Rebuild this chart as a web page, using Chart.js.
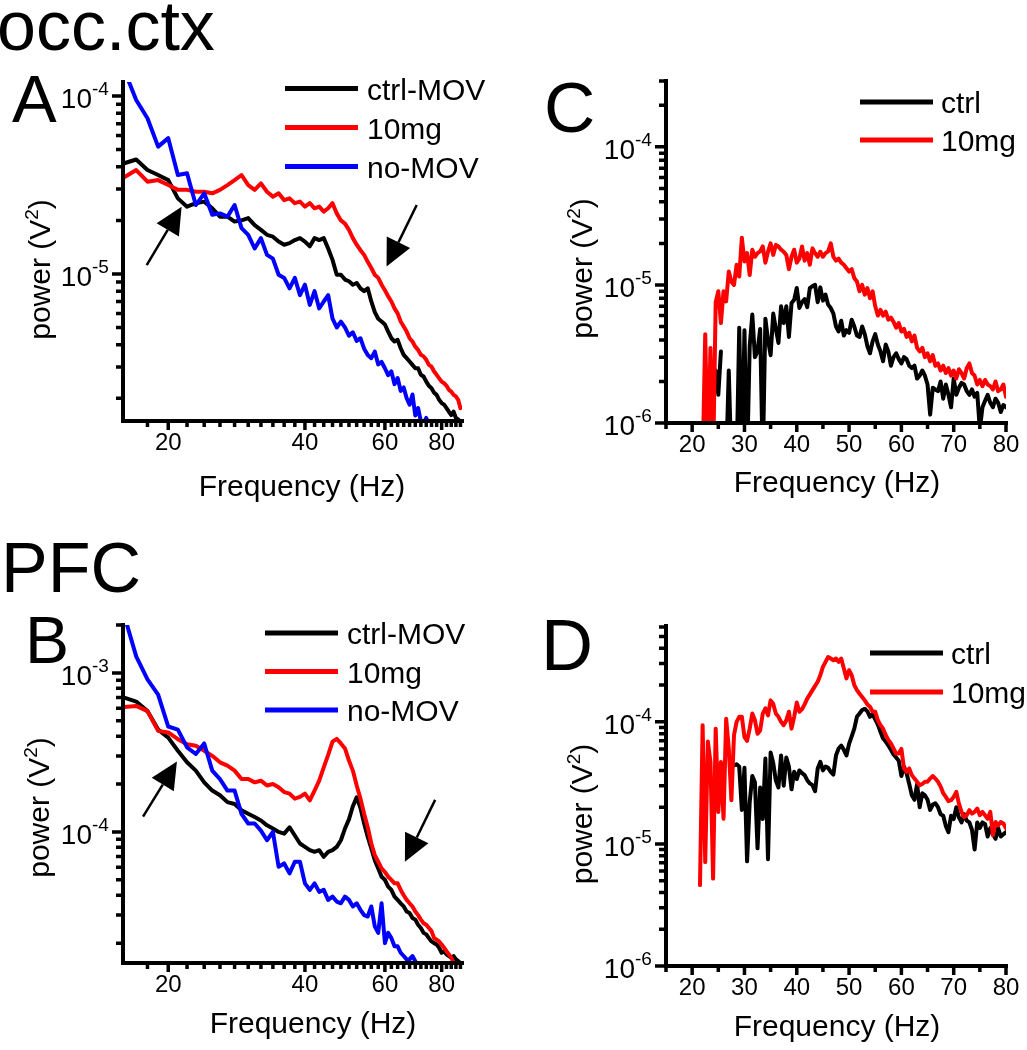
<!DOCTYPE html>
<html>
<head>
<meta charset="utf-8">
<title>occ.ctx / PFC power spectra</title>
<script src="https://cdn.jsdelivr.net/npm/chart.js@4.4.1/dist/chart.umd.min.js"></script>
<style>
  html, body { margin: 0; padding: 0; background: #fff; }
  #fig { position: relative; width: 1027px; height: 1050px; overflow: hidden; }
  #fig canvas { position: absolute; left: 0; top: 0; }
</style>
</head>
<body>
<div id="fig">
  <canvas id="panelA" width="1027" height="1050"></canvas>
  <canvas id="panelB" width="1027" height="1050"></canvas>
  <canvas id="panelC" width="1027" height="1050"></canvas>
  <canvas id="panelD" width="1027" height="1050"></canvas>
</div>
<script>
// frequency grid of panels A and B (Hz, log axis)
const freqAB = [
  16, 17, 18, 19, 20, 21, 22, 23, 24, 25,
  26, 27, 28, 29, 30, 31, 32, 33, 34, 35,
  36, 37, 38, 39, 40, 41, 42, 43, 44, 45,
  46, 47, 48, 49, 50, 51, 52, 53, 54, 55,
  56, 57, 58, 59, 60, 61, 62, 63, 64, 65,
  66, 67, 68, 69, 70, 71, 72, 73, 74, 75,
  76, 77, 78, 79, 80, 81, 82, 83, 84, 85,
  86, 87, 88
];

// A: occ.ctx power (V^2)
const ctrlMovA = [
  4.19e-5, 4.4e-5, 3.84e-5, 3.6e-5, 3.37e-5, 2.66e-5, 2.39e-5, 2.5e-5, 2.55e-5, 2.34e-5,
  2.1e-5, 2.1e-5, 1.97e-5, 2.0e-5, 2.06e-5, 1.88e-5, 1.77e-5, 1.66e-5, 1.62e-5, 1.52e-5,
  1.46e-5, 1.49e-5, 1.55e-5, 1.59e-5, 1.52e-5, 1.43e-5, 1.59e-5, 1.55e-5, 1.59e-5, 1.39e-5,
  1.2e-5, 9.9e-6, 9.9e-6, 9.3e-6, 9.1e-6, 8.7e-6, 8.9e-6, 8.3e-6, 8.0e-6, 8.3e-6,
  7.0e-6, 6.1e-6, 5.6e-6, 5.4e-6, 5.2e-6, 4.74e-6, 4.35e-6, 4.17e-6, 4.26e-6, 3.82e-6,
  3.51e-6, 3.36e-6, 3.22e-6, 3.08e-6, 2.95e-6, 2.95e-6, 2.71e-6, 2.65e-6, 2.48e-6, 2.35e-6,
  2.28e-6, 2.15e-6, 2.09e-6, 1.96e-6, 1.88e-6, 1.84e-6, 1.76e-6, 1.68e-6, 1.61e-6, 1.68e-6,
  1.55e-6, 1.52e-6, 1.48e-6
];
const mg10A = [
  3.5e-5, 3.84e-5, 3.3e-5, 3.37e-5, 3.16e-5, 2.97e-5, 2.97e-5, 2.9e-5, 2.9e-5, 2.84e-5,
  2.97e-5, 3.16e-5, 3.37e-5, 3.6e-5, 3.16e-5, 2.97e-5, 3.23e-5, 2.9e-5, 2.72e-5, 2.84e-5,
  2.6e-5, 2.66e-5, 2.5e-5, 2.55e-5, 2.39e-5, 2.5e-5, 2.34e-5, 2.39e-5, 2.24e-5, 2.34e-5,
  2.5e-5, 2.19e-5, 2.0e-5, 1.92e-5, 1.77e-5, 1.59e-5, 1.46e-5, 1.36e-5, 1.28e-5, 1.17e-5,
  1.08e-5, 9.9e-6, 9.5e-6, 8.7e-6, 8.1e-6, 7.5e-6, 7.0e-6, 6.4e-6, 6.0e-6, 5.4e-6,
  5.06e-6, 4.74e-6, 4.35e-6, 4.17e-6, 3.9e-6, 3.74e-6, 3.51e-6, 3.44e-6, 3.29e-6, 3.08e-6,
  3.01e-6, 2.83e-6, 2.71e-6, 2.59e-6, 2.48e-6, 2.43e-6, 2.35e-6, 2.23e-6, 2.18e-6, 2.09e-6,
  2.05e-6, 1.96e-6, 1.76e-6
];
const noMovA = [
  1.4e-4, 9.5e-5, 7.5e-5, 5.2e-5, 5.8e-5, 3.6e-5, 3.68e-5, 2.44e-5, 2.84e-5, 2.15e-5,
  2.19e-5, 2.1e-5, 2.44e-5, 1.81e-5, 1.66e-5, 1.39e-5, 1.59e-5, 1.28e-5, 1.22e-5, 9.9e-6,
  9.5e-6, 8.3e-6, 9.5e-6, 7.6e-6, 8.7e-6, 6.7e-6, 8.0e-6, 6.4e-6, 7.0e-6, 7.6e-6,
  5.6e-6, 5.0e-6, 5.4e-6, 5.0e-6, 4.5e-6, 4.7e-6, 4.2e-6, 4.35e-6, 3.8e-6, 3.5e-6,
  3.36e-6, 3.66e-6, 3.1e-6, 3.2e-6, 2.95e-6, 2.7e-6, 2.83e-6, 2.4e-6, 2.6e-6, 2.2e-6,
  2.3e-6, 2.0e-6, 1.84e-6, 2.1e-6, 1.6e-6, 1.76e-6, 1.48e-6, 1.45e-6, 1.55e-6, 1.42e-6,
  1.36e-6
];

// B: PFC power (V^2)
const ctrlMovB = [
  6.98e-4, 6.6e-4, 5.75e-4, 4.4e-4, 3.92e-4, 3.24e-4, 2.74e-4, 2.43e-4, 2.05e-4, 1.82e-4,
  1.7e-4, 1.54e-4, 1.5e-4, 1.37e-4, 1.3e-4, 1.24e-4, 1.18e-4, 1.1e-4, 1.05e-4, 1.0e-4,
  9.76e-5, 1.07e-4, 9.5e-5, 8.46e-5, 8.06e-5, 7.68e-5, 7.5e-5, 7.68e-5, 6.98e-5, 7.5e-5,
  7.68e-5, 8.06e-5, 8.87e-5, 1.05e-4, 1.2e-4, 1.45e-4, 1.65e-4, 1.42e-4, 1.13e-4, 9.3e-5,
  7.87e-5, 6.65e-5, 5.9e-5, 5.23e-5, 5.0e-5, 4.53e-5, 4.32e-5, 3.92e-5, 3.74e-5, 3.56e-5,
  3.4e-5, 3.16e-5, 3.09e-5, 2.88e-5, 2.81e-5, 2.61e-5, 2.49e-5, 2.32e-5, 2.27e-5, 2.15e-5,
  2.05e-5, 2.0e-5, 1.96e-5, 1.87e-5, 1.74e-5, 1.78e-5, 1.7e-5, 1.66e-5, 1.62e-5, 1.66e-5,
  1.58e-5, 1.54e-5, 1.5e-5
];
const mg10B = [
  6.1e-4, 6.2e-4, 5.75e-4, 4.32e-4, 4.22e-4, 3.83e-4, 3.56e-4, 3.48e-4, 3.24e-4, 3.01e-4,
  2.74e-4, 2.61e-4, 2.43e-4, 2.15e-4, 2.15e-4, 2.05e-4, 2.1e-4, 1.96e-4, 2.0e-4, 1.91e-4,
  1.78e-4, 1.74e-4, 1.62e-4, 1.66e-4, 1.74e-4, 1.58e-4, 1.82e-4, 2.1e-4, 2.55e-4, 3.05e-4,
  3.7e-4, 3.85e-4, 3.6e-4, 3.35e-4, 2.81e-4, 2.43e-4, 1.96e-4, 1.62e-4, 1.3e-4, 1.07e-4,
  8.46e-5, 7.15e-5, 6.5e-5, 5.9e-5, 5.6e-5, 5.23e-5, 5.0e-5, 4.75e-5, 4.75e-5, 4.32e-5,
  4.0e-5, 3.74e-5, 3.56e-5, 3.4e-5, 3.16e-5, 3.0e-5, 2.81e-5, 2.67e-5, 2.61e-5, 2.49e-5,
  2.38e-5, 2.15e-5, 2.1e-5, 2.05e-5, 1.96e-5, 1.87e-5, 1.78e-5, 1.7e-5, 1.62e-5, 1.5e-5,
  1.43e-5
];
const noMovB = [
  2.3e-3, 1.27e-3, 9.1e-4, 7.3e-4, 4.6e-4, 4.4e-4, 3.4e-4, 3.09e-4, 3.6e-4, 2.43e-4,
  2.15e-4, 1.82e-4, 1.82e-4, 1.3e-4, 1.13e-4, 1.13e-4, 1.02e-4, 8.87e-5, 1.0e-4, 6.04e-5,
  6.34e-5, 5.49e-5, 6.5e-5, 6.5e-5, 4.75e-5, 4.32e-5, 4.75e-5, 4.2e-5, 4.32e-5, 3.74e-5,
  3.92e-5, 3.65e-5, 3.56e-5, 3.92e-5, 3.74e-5, 3.4e-5, 3.56e-5, 3.24e-5, 3.0e-5, 2.94e-5,
  3.4e-5, 2.55e-5, 2.32e-5, 3.56e-5, 2.0e-5, 2.32e-5, 2.15e-5, 1.91e-5, 1.91e-5, 1.74e-5,
  1.66e-5, 1.58e-5, 1.58e-5, 1.66e-5, 1.54e-5, 1.43e-5
];

// frequency grid of panels C and D (Hz, linear axis)
const freqCD = [
  21.5, 22, 22.5, 23, 23.5, 24, 24.5, 25, 25.5, 26,
  26.5, 27, 27.5, 28, 28.5, 29, 29.5, 30, 30.5, 31,
  31.5, 32, 32.5, 33, 33.5, 34, 34.5, 35, 35.5, 36,
  36.5, 37, 37.5, 38, 38.5, 39, 39.5, 40, 40.5, 41,
  41.5, 42, 42.5, 43, 43.5, 44, 44.5, 45, 45.5, 46,
  46.5, 47, 47.5, 48, 48.5, 49, 49.5, 50, 50.5, 51,
  51.5, 52, 52.5, 53, 53.5, 54, 54.5, 55, 55.5, 56,
  56.5, 57, 57.5, 58, 58.5, 59, 59.5, 60, 60.5, 61,
  61.5, 62, 62.5, 63, 63.5, 64, 64.5, 65, 65.5, 66,
  66.5, 67, 67.5, 68, 68.5, 69, 69.5, 70, 70.5, 71,
  71.5, 72, 72.5, 73, 73.5, 74, 74.5, 75, 75.5, 76,
  76.5, 77, 77.5, 78, 78.5, 79, 79.5, 80
];

// C: occ.ctx power (V^2), null = no value
const ctrlC = [
  null, null, null, null, null, null, 2.4e-6, 1.6e-6, 3.3e-6, null,
  5e-7, 2.4e-6, 5e-7, null, 5e-7, 4.9e-6, 5e-7, 4.7e-6, 5e-7, 3.6e-6,
  6.1e-6, 3.0e-6, 3.3e-6, 4.8e-6, 5e-7, 5.7e-6, 4.0e-6, 3.1e-6, 6.2e-6, 4.8e-6,
  3.8e-6, 7.0e-6, 5.3e-6, 7.0e-6, 4.2e-6, 7.4e-6, 7.8e-6, 9.5e-6, 6.8e-6, 7.5e-6,
  7.9e-6, 6.9e-6, 9.5e-6, 9.8e-6, 1.0e-5, 7.5e-6, 9.6e-6, 7.7e-6, 8.5e-6, 7.2e-6,
  6.8e-6, 6.2e-6, 5.0e-6, 4.6e-6, 5.5e-6, 4.3e-6, 4.7e-6, 4.5e-6, 5.6e-6, 5.0e-6,
  4.3e-6, 4.2e-6, 5.0e-6, 4.4e-6, 3.6e-6, 3.2e-6, 3.9e-6, 4.4e-6, 3.7e-6, 3.3e-6,
  2.8e-6, 3.7e-6, 3.3e-6, 2.6e-6, 3.0e-6, 3.2e-6, 2.9e-6, 2.7e-6, 3.0e-6, 2.9e-6,
  2.6e-6, 2.5e-6, 2.6e-6, 2.1e-6, 2.2e-6, 2.4e-6, 2.2e-6, 1.9e-6, 1.15e-6, 1.8e-6,
  1.75e-6, 1.7e-6, 2.0e-6, 1.5e-6, 1.9e-6, 1.6e-6, 1.3e-6, 2.1e-6, 1.6e-6, 1.8e-6,
  1.95e-6, 1.9e-6, 1.7e-6, 1.6e-6, 1.75e-6, 1.55e-6, 1.65e-6, 9e-7, 1.3e-6, 1.45e-6,
  1.6e-6, 1.4e-6, 1.3e-6, 1.5e-6, 1.4e-6, 1.2e-6, 1.35e-6, 1.3e-6
];
const mg10C = [
  null, 5e-7, 4.4e-6, 5e-7, 3.5e-6, 5e-7, 7.5e-6, 9.0e-6, 5.3e-6, 9.0e-6,
  7.6e-6, 1.25e-5, 1.06e-5, 1.0e-5, 1.4e-5, 1.15e-5, 2.2e-5, 1.48e-5, 1.7e-5, 1.18e-5,
  1.8e-5, 1.6e-5, 1.7e-5, 1.75e-5, 1.9e-5, 1.45e-5, 1.74e-5, 2.0e-5, 1.65e-5, 1.95e-5,
  1.9e-5, 1.8e-5, 1.74e-5, 1.65e-5, 1.3e-5, 1.6e-5, 1.8e-5, 1.45e-5, 1.55e-5, 1.9e-5,
  1.5e-5, 1.7e-5, 1.4e-5, 1.84e-5, 1.7e-5, 1.6e-5, 1.74e-5, 1.6e-5, 1.7e-5, 1.75e-5,
  2.0e-5, 1.6e-5, 1.5e-5, 1.55e-5, 1.45e-5, 1.4e-5, 1.32e-5, 1.25e-5, 1.3e-5, 1.12e-5,
  1.06e-5, 9.0e-6, 1.0e-5, 8.5e-6, 9.5e-6, 8.0e-6, 9.0e-6, 7.0e-6, 6.0e-6, 6.6e-6,
  6.0e-6, 6.4e-6, 5.6e-6, 5.8e-6, 5.4e-6, 4.9e-6, 5.3e-6, 4.6e-6, 4.8e-6, 4.2e-6,
  4.5e-6, 3.9e-6, 4.3e-6, 3.5e-6, 3.3e-6, 3.5e-6, 3.0e-6, 3.2e-6, 2.8e-6, 3.1e-6,
  2.6e-6, 2.7e-6, 2.4e-6, 2.6e-6, 2.3e-6, 2.5e-6, 2.2e-6, 2.4e-6, 2.1e-6, 2.45e-6,
  2.3e-6, 2.1e-6, 2.5e-6, 2.7e-6, 2.3e-6, 2.2e-6, 1.9e-6, 2.05e-6, 1.85e-6, 2.05e-6,
  1.9e-6, 1.85e-6, 1.75e-6, 2.0e-6, 1.7e-6, 1.75e-6, 1.9e-6, 1.55e-6
];

// D: PFC power (V^2), null = no value
const ctrlD = [
  null, null, null, null, null, null, null, null, null, null,
  null, null, null, 4.4e-5, 4.5e-5, 4.3e-5, 1.9e-5, 4.2e-5, 7.2e-6, 2.2e-5,
  3.6e-5, 3.2e-5, 9.2e-6, 2.9e-5, 1.6e-5, 5.0e-5, 7.5e-6, 5.6e-5, 4.6e-5, 3.3e-5,
  2.9e-5, 5.3e-5, 3.0e-5, 5.1e-5, 4.3e-5, 2.8e-5, 3.9e-5, 3.4e-5, 4.0e-5, 3.8e-5,
  3.66e-5, 3.33e-5, 3.13e-5, 3.03e-5, 2.7e-5, 4.15e-5, 4.7e-5, 4.0e-5, 4.3e-5, 4.2e-5,
  3.9e-5, 3.7e-5, 5.3e-5, 6.05e-5, 6.4e-5, 5.9e-5, 5.3e-5, 6.6e-5, 7.6e-5, 8.8e-5,
  1.1e-4, 1.17e-4, 1.25e-4, 1.28e-4, 1.22e-4, 1.1e-4, 1.15e-4, 1.05e-4, 9.5e-5, 8.3e-5,
  7.3e-5, 6.9e-5, 6.4e-5, 5.9e-5, 5.4e-5, 5.1e-5, 4.8e-5, 3.6e-5, 4.3e-5, 3.8e-5,
  3.1e-5, 2.5e-5, 2.3e-5, 3.1e-5, 2.0e-5, 2.6e-5, 2.5e-5, 2.3e-5, 1.9e-5, 2.1e-5,
  2.15e-5, 2.0e-5, 1.75e-5, 1.7e-5, 1.4e-5, 1.25e-5, 1.7e-5, 1.6e-5, 2.0e-5, 1.65e-5,
  1.5e-5, 1.75e-5, 1.55e-5, 1.5e-5, 1.3e-5, 9.0e-6, 1.5e-5, 1.35e-5, 1.5e-5, 1.45e-5,
  1.15e-5, 1.35e-5, 1.2e-5, 1.1e-5, 1.35e-5, 1.15e-5, 1.2e-5, 1.25e-5
];
const mg10D = [
  4.6e-6, 9.4e-5, 7.1e-6, 6.9e-5, 4.7e-5, 5.2e-6, 8.8e-5, 1.83e-5, 4.7e-5, 1.61e-5,
  1.06e-4, 6.05e-5, 2.28e-5, 7.8e-5, 1.0e-4, 1.1e-4, 1.1e-4, 7.5e-5, 7.0e-5, 8.8e-5,
  1.17e-4, 1.03e-4, 8.0e-5, 8.5e-5, 1.17e-4, 1.29e-4, 1.13e-4, 1.5e-4, 1.4e-4, 1.17e-4,
  1.1e-4, 1.0e-4, 9.4e-5, 1.03e-4, 1.21e-4, 8.8e-5, 1.1e-4, 1.44e-4, 1.21e-4, 1.27e-4,
  1.39e-4, 1.55e-4, 1.68e-4, 1.82e-4, 1.97e-4, 2.13e-4, 2.41e-4, 2.82e-4, 3.1e-4, 3.4e-4,
  3.3e-4, 3.2e-4, 3.3e-4, 3.1e-4, 3.3e-4, 2.74e-4, 2.27e-4, 2.65e-4, 2.41e-4, 2.0e-4,
  1.82e-4, 1.7e-4, 1.6e-4, 1.5e-4, 1.39e-4, 1.33e-4, 1.21e-4, 1.21e-4, 1.03e-4, 9.4e-5,
  8.8e-5, 7.8e-5, 7.1e-5, 6.65e-5, 6.05e-5, 5.5e-5, 5.5e-5, 6.0e-5, 4.15e-5, 3.9e-5,
  4.15e-5, 3.66e-5, 3.43e-5, 3.23e-5, 3.03e-5, 3.1e-5, 3.23e-5, 3.23e-5, 3.43e-5, 3.6e-5,
  3.43e-5, 3.23e-5, 2.95e-5, 2.6e-5, 2.43e-5, 2.24e-5, 2.28e-5, 2.43e-5, 2.67e-5, 2.14e-5,
  1.83e-5, 1.66e-5, 1.72e-5, 1.89e-5, 1.77e-5, 1.83e-5, 1.95e-5, 1.72e-5, 1.83e-5, 1.72e-5,
  1.61e-5, 1.83e-5, 1.18e-5, 1.51e-5, 1.42e-5, 1.51e-5, 1.47e-5, 1.34e-5
];

// axis ticks
const xTicksLog = [18, 20, 22, 24, 26, 28, 30, 32, 34, 36, 38, 40, 42, 44, 46, 48, 50, 52,
  54, 56, 58, 60, 62, 64, 66, 68, 70, 72, 74, 76, 78, 80, 82, 84, 86, 88];
const xLabelsLog = [20, 40, 60, 80];
const xTicksLin = [15, 20, 25, 30, 35, 40, 45, 50, 55, 60, 65, 70, 75, 80];
const xLabelsLin = [20, 30, 40, 50, 60, 70, 80];
const yDecadesA = [-5, -4];
const yDecadesB = [-4, -3];
const yDecadesC = [-6, -5, -4];
const yDecadesD = [-6, -5, -4];

const FONT = '"Liberation Sans", Arial, Helvetica, sans-serif';
const BLACK = '#000000', RED = '#ff0000', BLUE = '#0000ff';

// draws axes, ticks, labels, legend, arrows and panel letters
const panelPlugin = {
  id: 'panel',
  afterDatasetsDraw(chart, args, o) {
    const ctx = chart.ctx;
    const a = chart.chartArea;
    const xs = chart.scales.x, ys = chart.scales.y;
    ctx.save();
    ctx.fillStyle = BLACK;
    ctx.strokeStyle = BLACK;

    // tick marks
    ctx.lineWidth = 3.5;
    ctx.lineCap = 'butt';
    ctx.beginPath();
    const lo = Math.floor(Math.log10(ys.min)), hi = Math.floor(Math.log10(ys.max));
    for (let d = lo; d <= hi; d++) {
      for (let m = 1; m <= 9; m++) {
        const v = m * Math.pow(10, d);
        if (v < ys.min * 0.999 || v > ys.max * 1.001) continue;
        const y = ys.getPixelForValue(v);
        ctx.moveTo(a.left, y);
        ctx.lineTo(a.left - (m === 1 ? 11 : 7), y);
      }
    }
    o.xTicks.forEach(v => {
      const x = xs.getPixelForValue(v);
      ctx.moveTo(x, a.bottom);
      ctx.lineTo(x, a.bottom + (o.xLabels.includes(v) ? 9 : 6));
    });
    ctx.stroke();

    // axis lines
    ctx.lineWidth = 4;
    ctx.lineCap = 'square';
    ctx.beginPath();
    ctx.moveTo(a.left, a.top);
    ctx.lineTo(a.left, a.bottom);
    ctx.lineTo(a.right, a.bottom);
    ctx.stroke();

    // y labels 10^n
    ctx.textBaseline = 'alphabetic';
    o.yDecades.forEach(d => {
      const y = ys.getPixelForValue(Math.pow(10, d));
      ctx.font = '28px ' + FONT;
      ctx.textAlign = 'right';
      ctx.fillText('10', a.left - 31, y + 12);
      ctx.font = '19px ' + FONT;
      ctx.textAlign = 'left';
      ctx.fillText(String(d), a.left - 31, y - 1);
    });

    // x labels
    ctx.font = '24px ' + FONT;
    ctx.textAlign = 'center';
    o.xLabels.forEach(v => ctx.fillText(String(v), xs.getPixelForValue(v), a.bottom + 29));

    // x title
    ctx.font = '30px ' + FONT;
    ctx.fillText('Frequency (Hz)', o.xTitle.cx, o.xTitle.baseline);

    // y title, rotated
    ctx.save();
    ctx.translate(o.yTitle.x, o.yTitle.cy);
    ctx.rotate(-Math.PI / 2);
    ctx.textAlign = 'left';
    ctx.font = '30px ' + FONT;
    const w1 = ctx.measureText('power (V').width;
    const w3 = ctx.measureText(')').width;
    ctx.font = '19px ' + FONT;
    const w2 = ctx.measureText('2').width;
    const x0 = -(w1 + w2 + w3) / 2;
    ctx.font = '30px ' + FONT;
    ctx.fillText('power (V', x0, 0);
    ctx.font = '19px ' + FONT;
    ctx.fillText('2', x0 + w1, -12);
    ctx.font = '30px ' + FONT;
    ctx.fillText(')', x0 + w1 + w2, 0);
    ctx.restore();

    // legend
    const L = o.legend;
    chart.data.datasets.forEach((ds, i) => {
      const y = L.y0 + i * L.dy;
      ctx.strokeStyle = ds.borderColor;
      ctx.lineWidth = 5;
      ctx.lineCap = 'butt';
      ctx.beginPath();
      ctx.moveTo(L.x1, y);
      ctx.lineTo(L.x2, y);
      ctx.stroke();
      ctx.fillStyle = BLACK;
      ctx.font = '30px ' + FONT;
      ctx.textAlign = 'left';
      ctx.fillText(ds.label, L.tx, y + 11);
    });

    // arrows (given in data coordinates)
    (o.arrows || []).forEach(ar => {
      const x1 = xs.getPixelForValue(ar.from[0]), y1 = ys.getPixelForValue(ar.from[1]);
      const x2 = xs.getPixelForValue(ar.to[0]), y2 = ys.getPixelForValue(ar.to[1]);
      const ang = Math.atan2(y2 - y1, x2 - x1);
      const hl = 27, hw = 13;
      const bx = x2 - hl * Math.cos(ang), by = y2 - hl * Math.sin(ang);
      ctx.strokeStyle = BLACK;
      ctx.lineWidth = 2.5;
      ctx.beginPath();
      ctx.moveTo(x1, y1);
      ctx.lineTo(bx, by);
      ctx.stroke();
      ctx.beginPath();
      ctx.moveTo(x2, y2);
      ctx.lineTo(bx + hw * Math.sin(ang), by - hw * Math.cos(ang));
      ctx.lineTo(bx - hw * Math.sin(ang), by + hw * Math.cos(ang));
      ctx.closePath();
      ctx.fill();
    });

    // region titles and panel letters
    ctx.textAlign = 'left';
    (o.texts || []).forEach(t => {
      ctx.font = t.size + 'px ' + FONT;
      ctx.fillText(t.text, t.x, t.y);
    });
    ctx.restore();
  }
};

function makePanel(id, p) {
  const datasets = p.series.map(s => ({
    label: s.label,
    data: s.values.map((v, i) => ({ x: p.freq[i], y: v })),
    borderColor: s.color,
    borderWidth: 4,
    borderJoinStyle: 'round',
    borderCapStyle: 'round',
    pointRadius: 0,
    tension: 0,
    fill: false,
    spanGaps: false,
    order: s.order
  }));
  return new Chart(document.getElementById(id), {
    type: 'line',
    data: { datasets },
    options: {
      responsive: false,
      animation: false,
      events: [],
      layout: { padding: p.area },
      scales: {
        x: { type: p.xType, min: p.xMin, max: p.xMax, display: false },
        y: { type: 'logarithmic', min: p.yMin, max: p.yMax, display: false }
      },
      plugins: {
        legend: { display: false },
        tooltip: { enabled: false },
        panel: p.deco
      }
    },
    plugins: [panelPlugin]
  });
}

makePanel('panelA', {
  freq: freqAB, xType: 'logarithmic', xMin: 15.9, xMax: 88.7, yMin: 1.49e-6, yMax: 1.2e-4,
  area: { left: 123, top: 82, right: 565, bottom: 629 },
  series: [
    { label: 'ctrl-MOV', values: ctrlMovA, color: BLACK, order: 3 },
    { label: '10mg', values: mg10A, color: RED, order: 2 },
    { label: 'no-MOV', values: noMovA, color: BLUE, order: 1 }
  ],
  deco: {
    xTicks: xTicksLog, xLabels: xLabelsLog, yDecades: yDecadesA,
    xTitle: { cx: 302, baseline: 496 }, yTitle: { x: 50, cy: 269.5 },
    legend: { x1: 285, x2: 358, tx: 367, y0: 88.5, dy: 39 },
    arrows: [{ from: [17.93, 1.12e-5], to: [21.4, 2.39e-5] }, { from: [70.5, 2.44e-5], to: [60.5, 1.1e-5] }],
    texts: [{ text: 'occ.ctx', x: -3, y: 50, size: 70 }, { text: 'A', x: 12, y: 122, size: 67 }]
  }
});

makePanel('panelB', {
  freq: freqAB, xType: 'logarithmic', xMin: 15.9, xMax: 88.7, yMin: 1.5e-5, yMax: 2.0e-3,
  area: { left: 123, top: 625, right: 565, bottom: 87 },
  series: [
    { label: 'ctrl-MOV', values: ctrlMovB, color: BLACK, order: 3 },
    { label: '10mg', values: mg10B, color: RED, order: 2 },
    { label: 'no-MOV', values: noMovB, color: BLUE, order: 1 }
  ],
  deco: {
    xTicks: xTicksLog, xLabels: xLabelsLog, yDecades: yDecadesB,
    xTitle: { cx: 313, baseline: 1033 }, yTitle: { x: 49, cy: 807.5 },
    legend: { x1: 265, x2: 338, tx: 347, y0: 633, dy: 38.5 },
    arrows: [{ from: [17.6, 1.25e-4], to: [20.9, 2.77e-4] }, { from: [77.4, 1.59e-4], to: [66.4, 6.5e-5] }],
    texts: [{ text: 'PFC', x: 1, y: 592, size: 70 }, { text: 'B', x: 25, y: 663, size: 66 }]
  }
});

makePanel('panelC', {
  freq: freqCD, xType: 'linear', xMin: 15, xMax: 80, yMin: 1e-6, yMax: 3.0e-4,
  area: { left: 666, top: 81, right: 21, bottom: 627 },
  series: [
    { label: 'ctrl', values: ctrlC, color: BLACK, order: 2 },
    { label: '10mg', values: mg10C, color: RED, order: 1 }
  ],
  deco: {
    xTicks: xTicksLin, xLabels: xLabelsLin, yDecades: yDecadesC,
    xTitle: { cx: 837, baseline: 492 }, yTitle: { x: 592, cy: 268.5 },
    legend: { x1: 860, x2: 933, tx: 941, y0: 102, dy: 38 },
    texts: [{ text: 'C', x: 544, y: 132, size: 71 }]
  }
});

makePanel('panelD', {
  freq: freqCD, xType: 'linear', xMin: 15, xMax: 80, yMin: 1e-6, yMax: 6.1e-4,
  area: { left: 666, top: 626, right: 21, bottom: 84 },
  series: [
    { label: 'ctrl', values: ctrlD, color: BLACK, order: 2 },
    { label: '10mg', values: mg10D, color: RED, order: 1 }
  ],
  deco: {
    xTicks: xTicksLin, xLabels: xLabelsLin, yDecades: yDecadesD,
    xTitle: { cx: 837, baseline: 1036 }, yTitle: { x: 592, cy: 814 },
    legend: { x1: 870, x2: 943, tx: 951, y0: 653, dy: 39 },
    texts: [{ text: 'D', x: 541, y: 670, size: 72 }]
  }
});
</script>
</body>
</html>
